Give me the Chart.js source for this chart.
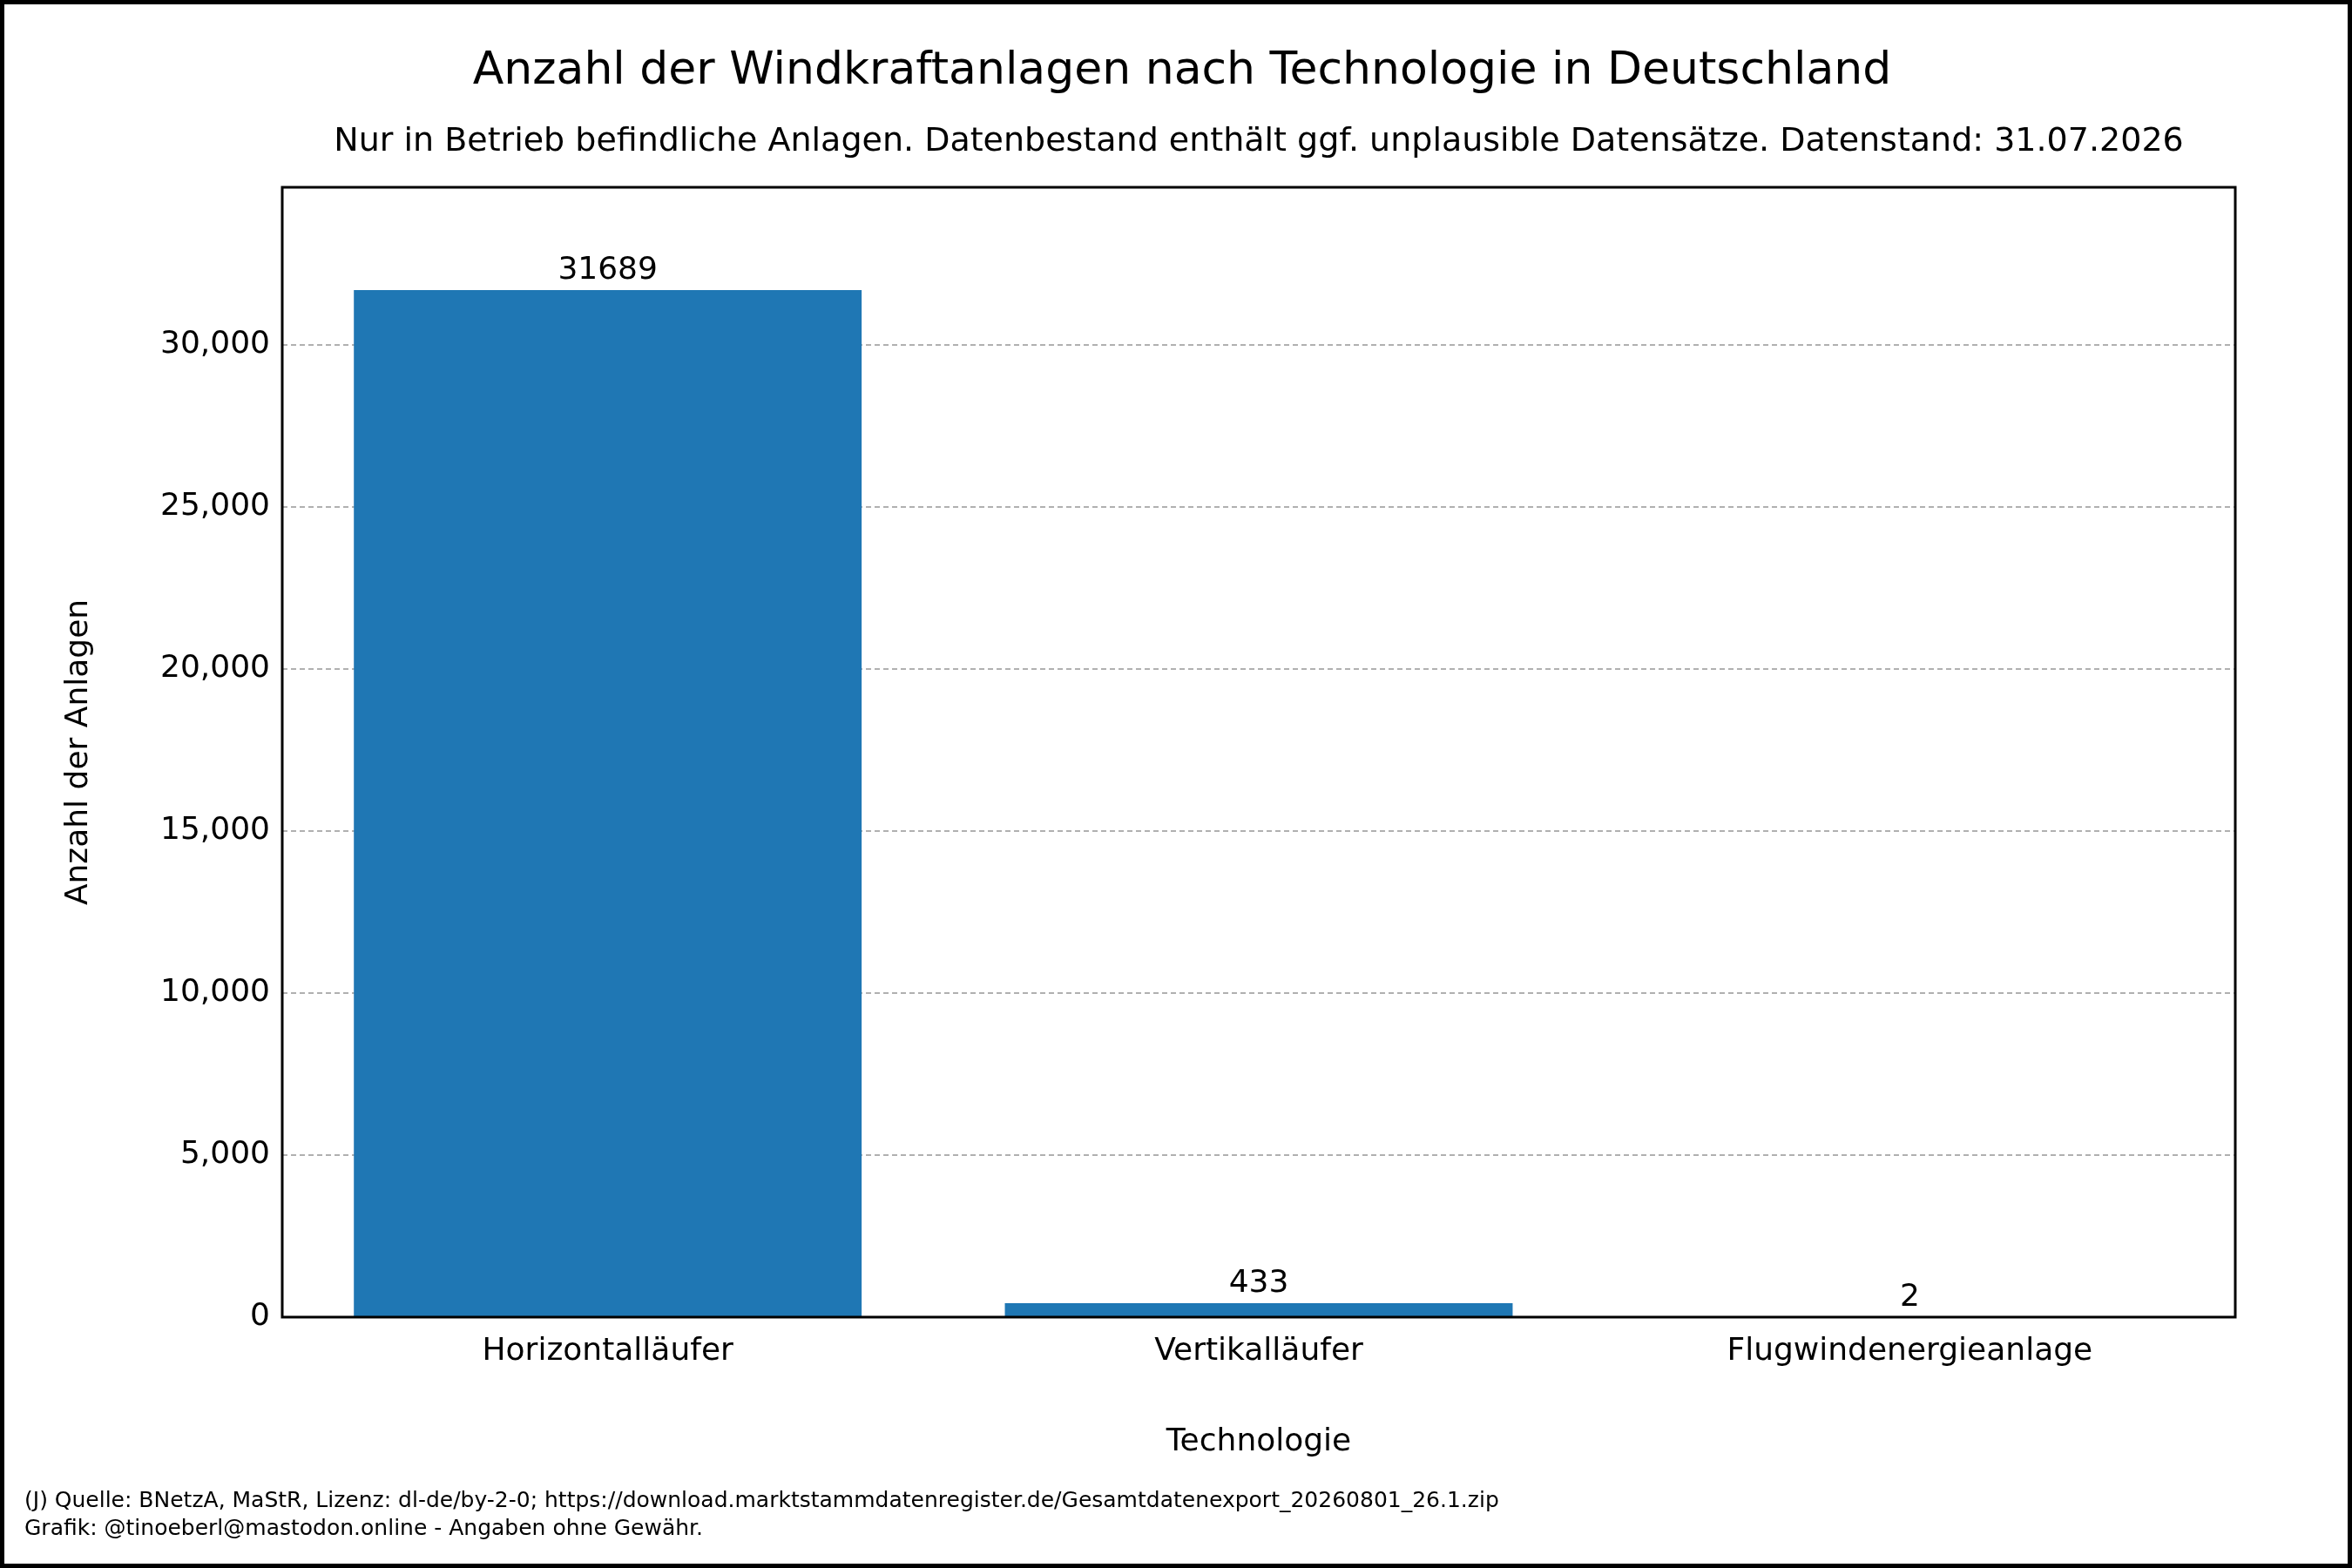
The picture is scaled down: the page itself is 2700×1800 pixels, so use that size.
<!DOCTYPE html>
<html><head><meta charset="utf-8">
<script src="https://cdn.jsdelivr.net/npm/chart.js@4/dist/chart.umd.min.js"></script>
<style>html,body{margin:0;padding:0;background:#fff}#w{width:2700px;height:1800px}</style>
</head><body><div id="w"><canvas id="c"></canvas></div>
<script>
const categories = ["Horizontalläufer", "Vertikalläufer", "Flugwindenergieanlage"];
const counts = [31689, 433, 2];
const yTicks = [0, 5000, 10000, 15000, 20000, 25000, 30000];
const title = "Anzahl der Windkraftanlagen nach Technologie in Deutschland";
const subtitle = "Nur in Betrieb befindliche Anlagen. Datenbestand enthält ggf. unplausible Datensätze. Datenstand: 31.07.2026";
const footer = ["(J) Quelle: BNetzA, MaStR, Lizenz: dl-de/by-2-0; https://download.marktstammdatenregister.de/Gesamtdatenexport_20260801_26.1.zip", "Grafik: @tinoeberl@mastodon.online - Angaben ohne Gewähr."];
const F = "'DejaVu Sans', sans-serif";
const deco = {
  id: 'deco',
  afterDraw(ch) {
    const c = ch.ctx, a = ch.chartArea;
    c.save();
    c.strokeStyle = '#000'; c.lineWidth = 3;
    c.strokeRect(a.left, a.top, a.right - a.left, a.bottom - a.top);
    c.lineWidth = 5; c.strokeRect(2.5, 2.5, 2695, 1795);
    c.fillStyle = '#000'; c.textAlign = 'center'; c.textBaseline = 'alphabetic';
    c.font = `52px ${F}`; c.fillText(title, 1357, 96);
    c.font = `38px ${F}`; c.fillText(subtitle, 1445, 173);
    c.font = `36px ${F}`; c.fillText("Technologie", (a.left + a.right) / 2, 1665);
    c.save(); c.translate(100, (a.top + a.bottom) / 2); c.rotate(-Math.PI / 2);
    c.fillText("Anzahl der Anlagen", 0, 0); c.restore();
    const meta = ch.getDatasetMeta(0);
    c.font = `36px ${F}`; c.textBaseline = 'bottom';
    meta.data.forEach((b, i) => c.fillText(String(counts[i]), b.x, b.y - 4));
    c.textAlign = 'left'; c.textBaseline = 'alphabetic'; c.font = `25px ${F}`;
    c.fillText(footer[0], 28, 1730); c.fillText(footer[1], 28, 1762);
    c.restore();
  }
};
new Chart(document.getElementById('c'), {
  type: 'bar',
  data: { labels: categories, datasets: [{ data: counts, backgroundColor: '#1f77b4', barPercentage: 0.78, categoryPercentage: 1 }] },
  options: {
    responsive: true, maintainAspectRatio: false, animation: false, devicePixelRatio: 1,
    layout: { padding: { top: 215, right: 134, left: 0, bottom: 0 } },
    plugins: { legend: { display: false }, tooltip: { enabled: false } },
    scales: {
      x: {
        afterFit(s) { s.height = 288; },
        grid: { display: false, drawTicks: true },
        border: { display: false },
        ticks: { color: '#000', font: { size: 36, family: F }, padding: 10 }
      },
      y: {
        min: 0, max: 34858,
        afterFit(s) { s.width = 324; },
        afterBuildTicks(s) { s.ticks = yTicks.map(v => ({ value: v })); },
        grid: { color: '#b0b0b0', lineWidth: 2, drawTicks: false, tickBorderDash: [6, 4] },
        border: { display: false, dash: [6, 4] },
        ticks: { color: '#000', font: { size: 36, family: F }, padding: 14 }
      }
    }
  },
  plugins: [deco]
});
</script></body></html>
